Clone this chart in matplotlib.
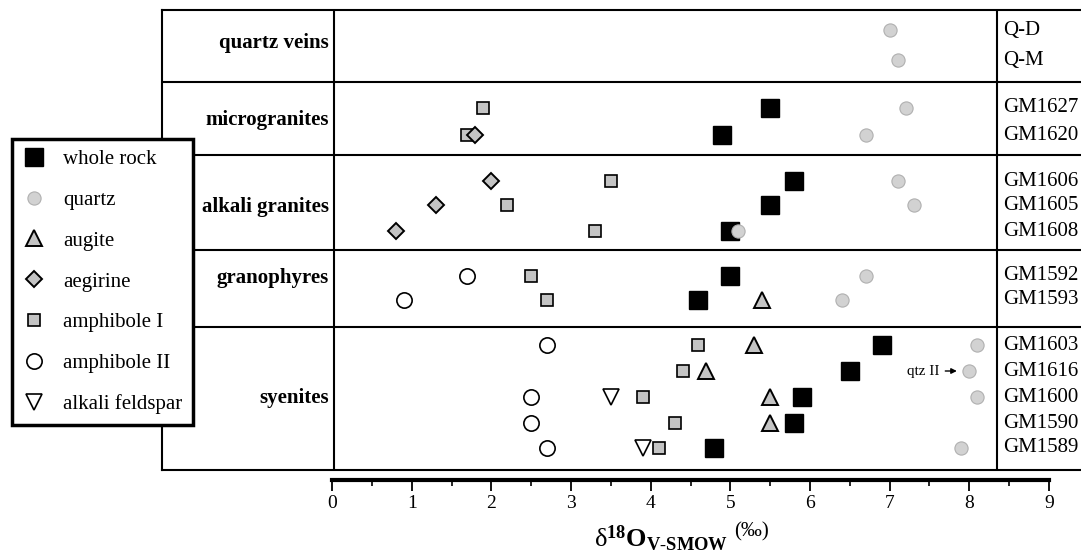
import numpy as np
import matplotlib
matplotlib.use("Agg")
import matplotlib.pyplot as plt
from matplotlib.lines import Line2D

plt.rcParams['font.family'] = 'Liberation Serif'
plt.rcParams['mathtext.fontset'] = 'custom'
plt.rcParams['mathtext.rm'] = 'Liberation Serif'
plt.rcParams['mathtext.bf'] = 'Liberation Serif:bold'
plt.rcParams['mathtext.it'] = 'Liberation Serif:italic'

nan = np.nan

groups = ["quartz veins", "microgranites", "alkali granites", "granophyres", "syenites"]
samples = ["Q-D", "Q-M", "GM1627", "GM1620", "GM1606", "GM1605", "GM1608",
           "GM1592", "GM1593", "GM1603", "GM1616", "GM1600", "GM1590", "GM1589"]

whole_rock = [nan, nan, 5.5, 4.9, 5.8, 5.5, 5.0, 5.0, 4.6, 6.9, 6.5, 5.9, 5.8, 4.8]
quartz = [7.0, 7.1, 7.2, 6.7, 7.1, 7.3, 5.1, 6.7, 6.4, 8.1, 8.0, 8.1, nan, 7.9]
augite = [nan, nan, nan, nan, nan, nan, nan, nan, 5.4, 5.3, 4.7, 5.5, 5.5, nan]
aegirine = [nan, nan, nan, 1.8, 2.0, 1.3, 0.8, nan, nan, nan, nan, nan, nan, nan]
amphibole_1 = [nan, nan, 1.9, 1.7, 3.5, 2.2, 3.3, 2.5, 2.7, 4.6, 4.4, 3.9, 4.3, 4.1]
amphibole_2 = [nan, nan, nan, nan, nan, nan, nan, 1.7, 0.9, 2.7, nan, 2.5, 2.5, 2.7]
alkali_feldspar = [nan, nan, nan, nan, nan, nan, nan, nan, nan, nan, nan, 3.5, nan, 3.9]

# layout (pixel rows of the table)
row_y = [30, 60, 108, 135, 181, 205, 231, 276, 300, 345, 371, 397, 423, 448]
band_lines = [82, 155, 250, 327]
group_label_y = [43, 120, 207, 278, 398]

W, H = 1081, 557
px = 79.67  # pixels per permil
x0 = 332    # pixel of zero

fig = plt.figure(figsize=(W / 100, H / 100), dpi=100)

ax = fig.add_axes([162 / W, 1 - 470 / H, (W - 162) / W, 460 / H])
ax.set_xlim((162 - x0) / px, (W - x0) / px)
ax.set_ylim(470, 10)
ax.set_xticks([])
ax.set_yticks([])
for s in ["left", "top", "bottom"]:
    ax.spines[s].set_linewidth(1.5)
ax.spines["right"].set_visible(False)

for yb in band_lines:
    ax.axhline(yb, color="black", lw=1.5)
ax.axvline(0.03, color="black", lw=1.5)
x_right = (997 - x0) / px
ax.axvline(x_right, color="black", lw=1.5)

for g, yy in zip(groups, group_label_y):
    ax.text(-0.04, yy, g, ha="right", va="center", fontsize=15, fontweight="bold")
for s, yy in zip(samples, row_y):
    ax.text(x_right + 0.08, yy, s, ha="left", va="center", fontsize=15)

grey = "#c4c4c4"
styles = [
    ("whole rock", whole_rock, dict(marker="s", ms=12.5, mfc="black", mec="black", mew=1)),
    ("amphibole I", amphibole_1, dict(marker="s", ms=9, mfc=grey, mec="black", mew=1.2)),
    ("aegirine", aegirine, dict(marker="D", ms=8.5, mfc=grey, mec="black", mew=1.4)),
    ("augite", augite, dict(marker="^", ms=12, mfc=grey, mec="black", mew=1.4)),
    ("amphibole II", amphibole_2, dict(marker="o", ms=11, mfc="white", mec="black", mew=1.2)),
    ("alkali feldspar", alkali_feldspar, dict(marker="v", ms=12, mfc="white", mec="black", mew=1.2)),
    ("quartz", quartz, dict(marker="o", ms=9.5, mfc="#d2d2d2", mec="#b0b0b0", mew=0.8)),
]
handles = {}
for name, vals, st in styles:
    ax.plot(vals, row_y, ls="none", zorder=3, **st)
    handles[name] = Line2D([], [], ls="none", **st)

ax.annotate("qtz II", xy=(7.93, row_y[10]), xytext=(7.22, row_y[10]),
            ha="left", va="center", fontsize=11,
            arrowprops=dict(arrowstyle="-|>", color="black", lw=1, mutation_scale=8,
                            shrinkA=2, shrinkB=5))

order = ["whole rock", "quartz", "augite", "aegirine", "amphibole I", "amphibole II", "alkali feldspar"]
leg = fig.legend([handles[k] for k in order], order, loc="upper left",
                 bbox_to_anchor=(12 / W, 1 - 139 / H), borderaxespad=0,
                 fontsize=15, frameon=True, fancybox=False, framealpha=1,
                 edgecolor="black", labelspacing=1.02, handletextpad=0.85,
                 borderpad=0.5, handlelength=1.1)
leg.get_frame().set_linewidth(2.5)

# x axis
axx = fig.add_axes([x0 / W, 1 - 480 / H, (1049 - x0) / W, 0.01])
axx.set_xlim(0, 9)
axx.patch.set_visible(False)
for s in ["left", "top", "right"]:
    axx.spines[s].set_visible(False)
axx.spines["bottom"].set_linewidth(3)
axx.set_yticks([])
axx.set_xticks(range(10))
axx.set_xticks(np.arange(0.5, 9, 1), minor=True)
axx.tick_params(axis="x", which="major", direction="out", length=8, width=1.3,
                labelsize=14, pad=3)
axx.tick_params(axis="x", which="minor", direction="out", length=4.5, width=1.2)

t = fig.text(594 / W, 1 - 547 / H,
             r"$\mathrm{\delta}^{\mathbf{18}}\mathbf{O}_{\mathbf{V\text{-}SMOW}}$",
             ha="left", va="baseline", fontsize=19)
axx.annotate("(‰)", xy=(1, 0.42), xycoords=t, xytext=(4, 0),
             textcoords="offset points", ha="left", va="bottom", fontsize=15)

fig.savefig("out.png", dpi=100)
